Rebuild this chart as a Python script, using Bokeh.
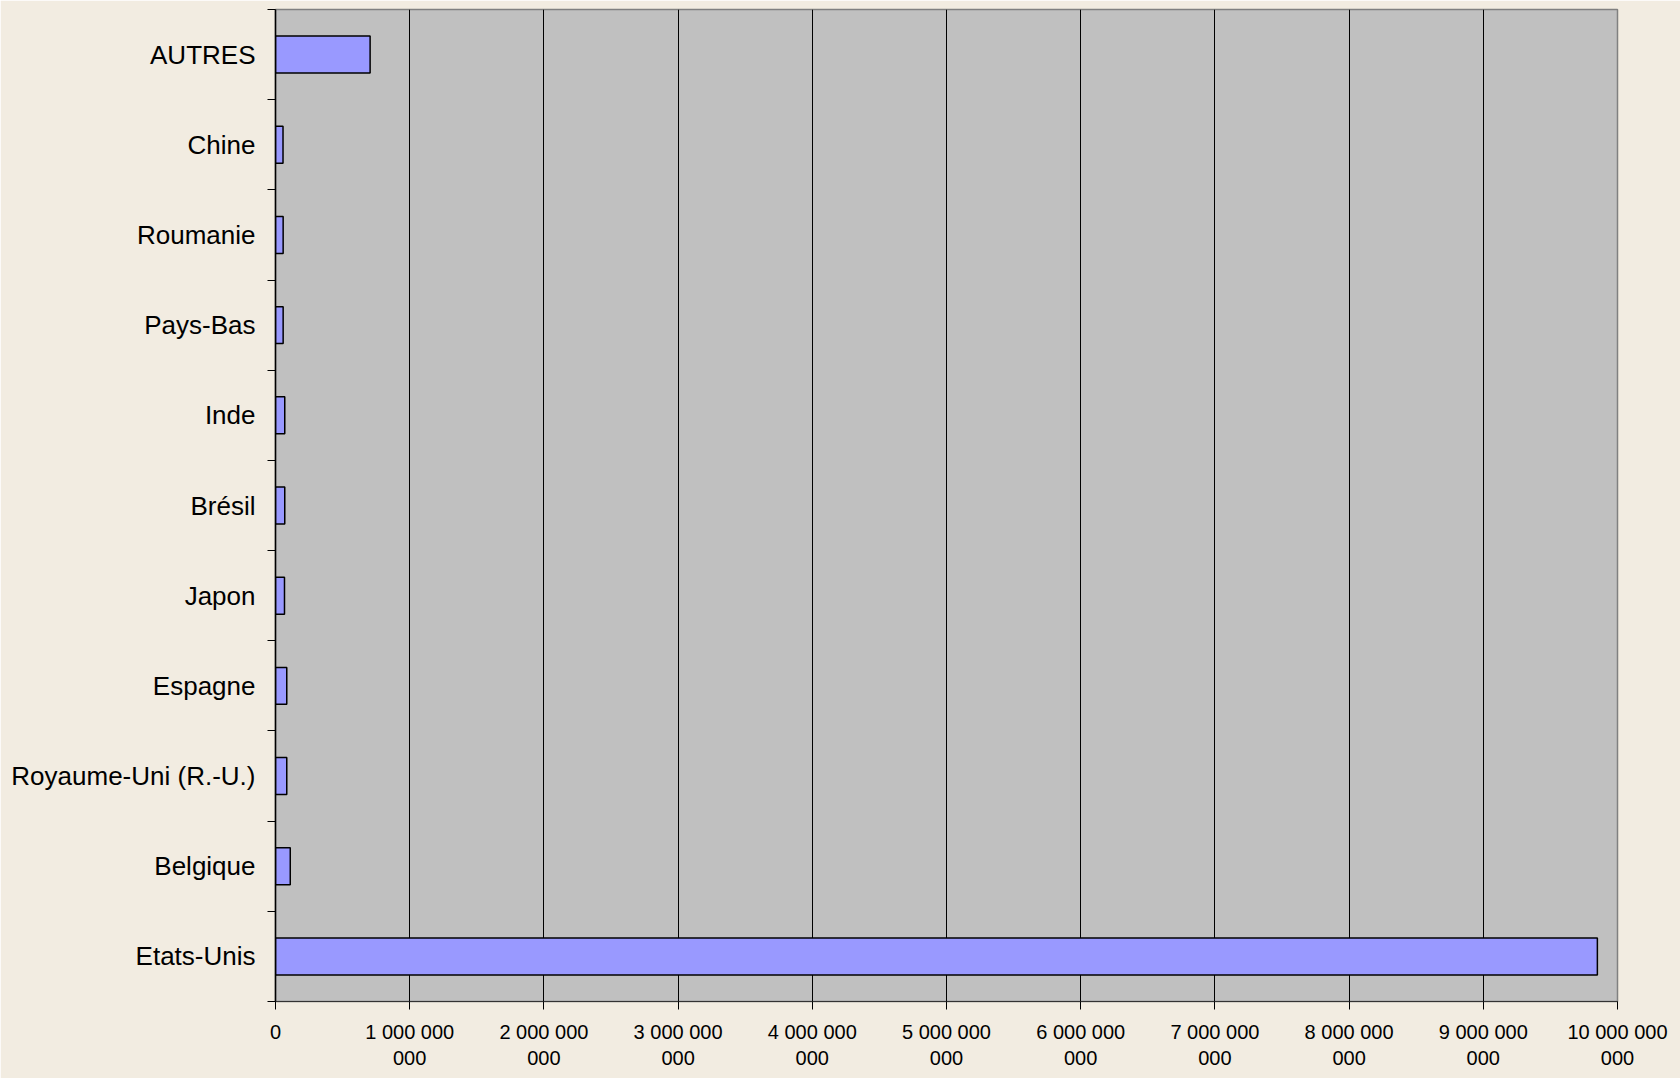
from bokeh.plotting import figure
from bokeh.models import FixedTicker, Range1d, ColumnDataSource
from bokeh.embed import file_html
from bokeh.resources import INLINE

# Data (top to bottom as shown)
categories = ["AUTRES", "Chine", "Roumanie", "Pays-Bas", "Inde", "Brésil", "Japon",
              "Espagne", "Royaume-Uni (R.-U.)", "Belgique", "Etats-Unis"]
values = [705_000_000, 56_000_000, 57_000_000, 57_000_000, 69_000_000, 69_000_000,
          67_000_000, 84_000_000, 84_000_000, 110_000_000, 9_850_000_000]
x_ticks = [0, 1_000_000_000, 2_000_000_000, 3_000_000_000, 4_000_000_000, 5_000_000_000,
           6_000_000_000, 7_000_000_000, 8_000_000_000, 9_000_000_000, 10_000_000_000]
x_tick_labels = ["0", "1 000 000\n000", "2 000 000\n000", "3 000 000\n000", "4 000 000\n000",
                 "5 000 000\n000", "6 000 000\n000", "7 000 000\n000", "8 000 000\n000",
                 "9 000 000\n000", "10 000 000\n000"]

n = len(categories)
# bottom-to-top positions derived from the category order
ypos = [n - 1 - i + 0.5 for i in range(n)]
src = ColumnDataSource(dict(y=ypos, v=values, cat=categories))

FONT = "Liberation Sans"

p = figure(width=1680, height=1078, output_backend="svg", toolbar_location=None,
           x_range=Range1d(0, 10_000_000_000), y_range=Range1d(0, n),
           min_border_left=275, min_border_top=9, min_border_right=63, min_border_bottom=77)

p.background_fill_color = "#C0C0C0"
p.border_fill_color = "#F2ECE1"
p.outline_line_color = "#808080"
p.outline_line_width = 1.5

p.hbar(y="y", left=0, right="v", height=0.41, source=src,
       fill_color="#9999FF", line_color="#000000", line_width=1.5)

# X axis
p.xaxis.ticker = FixedTicker(ticks=x_ticks)
p.xaxis.major_label_overrides = {t: lab for t, lab in zip(x_ticks, x_tick_labels)}
p.xaxis.major_label_text_font = FONT
p.xaxis.major_label_text_font_size = "20px"
p.xaxis.major_label_text_color = "#000000"
p.xaxis.major_label_standoff = 11
p.xaxis.major_tick_out = 8
p.xaxis.major_tick_in = 0
p.xaxis.minor_tick_line_color = None
p.xaxis.axis_line_color = "#333333"
p.xaxis.axis_line_width = 1.2
p.xaxis.major_tick_line_color = "#000000"

# Y axis: labels at category centres, ticks at boundaries
p.yaxis.ticker = FixedTicker(ticks=ypos, minor_ticks=list(range(n + 1)))
p.yaxis.major_label_overrides = {y: c for y, c in zip(ypos, categories)}
p.yaxis.major_label_text_font = FONT
p.yaxis.major_label_text_font_size = "26px"
p.yaxis.major_label_text_color = "#000000"
p.yaxis.major_label_standoff = 12
p.yaxis.major_tick_out = 0
p.yaxis.major_tick_in = 0
p.yaxis.major_tick_line_color = None
p.yaxis.minor_tick_out = 8
p.yaxis.minor_tick_in = 0
p.yaxis.minor_tick_line_color = "#000000"
p.yaxis.axis_line_color = "#000000"
p.yaxis.axis_line_width = 1.5

p.xgrid.ticker = FixedTicker(ticks=x_ticks)
p.xgrid.grid_line_color = "#000000"
p.xgrid.grid_line_width = 1
p.ygrid.grid_line_color = None

open("out.html", "w").write(file_html(p, INLINE))
